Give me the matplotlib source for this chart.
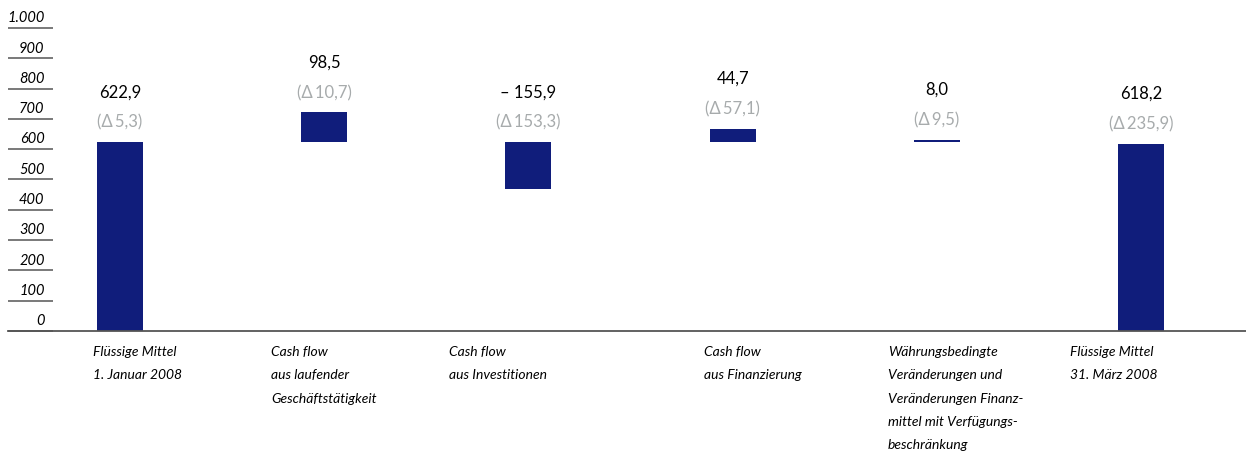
import matplotlib
matplotlib.use("Agg")
import matplotlib.pyplot as plt

# data
categories = [
    "Flüssige Mittel\n1. Januar 2008",
    "Cash flow\naus laufender\nGeschäftstätigkeit",
    "Cash flow\naus Investitionen",
    "Cash flow\naus Finanzierung",
    "Währungsbedingte\nVeränderungen und\nVeränderungen Finanz-\nmittel mit Verfügungs-\nbeschränkung",
    "Flüssige Mittel\n31. März 2008",
]
values = [622.9, 98.5, -155.9, 44.7, 8.0, 618.2]
deltas = [5.3, 10.7, 153.3, 57.1, 9.5, 235.9]
is_total = [True, False, False, False, False, True]
y_ticks = [0, 100, 200, 300, 400, 500, 600, 700, 800, 900, 1000]
y_tick_labels = ["0", "100", "200", "300", "400", "500", "600", "700", "800", "900", "1.000"]

# layout
label_x = [-0.13, 0.74, 1.61, 2.86, 3.76, 4.65]
navy = "#101d7b"
grey = "#a7abac"
fam = ["Lato", "DejaVu Sans"]


def de(v):
    return f"{abs(v):.1f}".replace(".", ",")


fig = plt.figure(figsize=(12.46, 4.58), dpi=100)
ax = fig.add_axes([8 / 1246, 127 / 458, 1 - 8 / 1246, 303 / 458])
ax.set_xlim(-0.5485, 5.514)
ax.set_ylim(0, 1000)
ax.axis("off")

base = values[0]
for i, v in enumerate(values):
    if is_total[i]:
        bottom, height = 0, v
    else:
        bottom, height = base, v
    ax.bar(i, height, bottom=bottom, width=0.225, color=navy, linewidth=0)
    top = max(bottom, bottom + height)
    txt = ("\u2013 " if v < 0 else "") + de(v)
    ax.annotate(txt, (i, top), xytext=(0, 36), textcoords="offset points",
                ha="center", va="center", fontsize=12, family=fam, color="black")
    ax.annotate(f"(\u0394\u2009{de(deltas[i])})", (i, top), xytext=(0, 14), textcoords="offset points",
                ha="center", va="center", fontsize=12, family=fam, color=grey)

# short tick underlines with labels on top
tr = ax.get_yaxis_transform()
ax.hlines(y_ticks, 0, 0.0363, transform=tr, color="#555555", lw=1.1, clip_on=False)
for t, lab in zip(y_ticks, y_tick_labels):
    ax.annotate(lab, (0.0363, t), xycoords=tr, xytext=(-6, 2), textcoords="offset points",
                ha="right", va="bottom", fontsize=10.5, style="italic", family=fam, color="black")

# baseline
ax.axhline(0, color="#555555", lw=1.3, clip_on=False)

for x, lab in zip(label_x, categories):
    ax.annotate(lab, (x, 0), xytext=(0, -11), textcoords="offset points",
                ha="left", va="top", fontsize=10, style="italic", family=fam,
                linespacing=2.12, color="black")

fig.savefig("out.png", dpi=100)
